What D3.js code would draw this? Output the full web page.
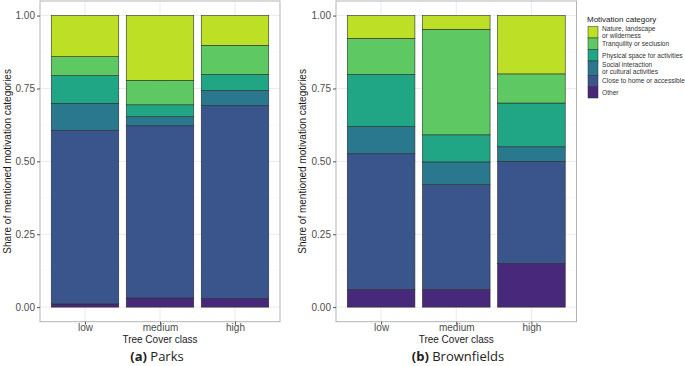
<!DOCTYPE html>
<html><head><meta charset="utf-8">
<script src="https://cdn.jsdelivr.net/npm/d3@7"></script>
<style>body{margin:0;background:#fff}svg{display:block}</style>
</head><body><svg id="c" width="685" height="366"></svg>
<script>
const classes = ["low","medium","high"];
const categories = ["Other","Close to home or accessible","Social interaction\nor cultural activities","Physical space for activities","Tranquility or seclusion","Nature, landscape\nor wilderness"];
const colors = ["#47287a","#3a548c","#2a788e","#21a685","#5ec962","#bddf26"];
// shares per class, in category order (bottom -> top)
const parksLow    = [0.011,0.595,0.093,0.095,0.065,0.141];
const parksMedium = [0.031,0.591,0.031,0.041,0.084,0.222];
const parksHigh   = [0.029,0.662,0.052,0.055,0.100,0.102];
const brownLow    = [0.060,0.466,0.093,0.179,0.124,0.078];
const brownMedium = [0.060,0.360,0.078,0.093,0.362,0.047];
const brownHigh   = [0.150,0.350,0.050,0.150,0.100,0.200];
const yTicks = [0,0.25,0.5,0.75,1];
const yMinor = [0.125,0.375,0.625,0.875];
const panels = [
  {key:"a", name:"Parks", data:[parksLow,parksMedium,parksHigh], x0:40, x1:280, ytitleX:7, capX:157},
  {key:"b", name:"Brownfields", data:[brownLow,brownMedium,brownHigh], x0:336, x1:576.5, ytitleX:302, capX:458}
];
const svg = d3.select("#c");
const pTop=1, pBot=321.7;
const y = d3.scaleLinear().domain([-0.05,1.05]).range([pBot,pTop]);
panels.forEach(p=>{
  const g = svg.append("g");
  const xc = d3.scalePoint().domain(classes).range([p.x0,p.x1]).padding(0.6);
  const step = xc.step(); const bw = step*0.9;
  // grid
  yMinor.forEach(t=>g.append("line").attr("x1",p.x0).attr("x2",p.x1).attr("y1",y(t)).attr("y2",y(t)).attr("stroke","#f4f4f4").attr("stroke-width",0.6));
  yTicks.forEach(t=>g.append("line").attr("x1",p.x0).attr("x2",p.x1).attr("y1",y(t)).attr("y2",y(t)).attr("stroke","#ebebeb").attr("stroke-width",1));
  classes.forEach(c=>g.append("line").attr("x1",xc(c)).attr("x2",xc(c)).attr("y1",pTop).attr("y2",pBot).attr("stroke","#ebebeb").attr("stroke-width",1));
  // stacked bars
  const rows = classes.map((c,i)=>{const o={cls:c}; categories.forEach((k,j)=>o[k]=p.data[i][j]); return o;});
  const series = d3.stack().keys(categories)(rows);
  series.forEach((s,j)=>{
    g.selectAll(null).data(s).join("rect")
      .attr("x",d=>xc(d.data.cls)-bw/2).attr("width",bw)
      .attr("y",d=>y(d[1])).attr("height",d=>y(d[0])-y(d[1]))
      .attr("fill",colors[j]).attr("stroke","#2b2b2b").attr("stroke-width",0.6);
  });
  // panel border
  g.append("rect").attr("x",p.x0).attr("y",pTop).attr("width",p.x1-p.x0).attr("height",pBot-pTop).attr("fill","none").attr("stroke","#b3b3b3").attr("stroke-width",1);
  // y axis
  const ya = d3.axisLeft(y).tickValues(yTicks).tickFormat(d3.format(".2f")).tickSize(3).tickPadding(2);
  const yg = g.append("g").attr("transform",`translate(${p.x0},0)`).call(ya);
  yg.select(".domain").remove();
  yg.selectAll("line").attr("stroke","#555");
  yg.selectAll("text").attr("fill","#4d4d4d").style("font-family","Liberation Sans, Arial").style("font-size","10px");
  // x axis
  const xa = d3.axisBottom(xc).tickSize(3).tickPadding(0);
  const xg = g.append("g").attr("transform",`translate(0,${pBot})`).call(xa);
  xg.select(".domain").remove();
  xg.selectAll("line").attr("stroke","#555");
  xg.selectAll("text").attr("fill","#4d4d4d").attr("dy","0.6em").style("font-family","Liberation Sans, Arial").style("font-size","10px");
  // titles
  g.append("text").attr("x",(p.x0+p.x1)/2).attr("y",342.5).attr("text-anchor","middle").style("font-family","Liberation Sans, Arial").style("font-size","10px").attr("fill","#1a1a1a").text("Tree Cover class");
  g.append("text").attr("transform",`translate(${p.ytitleX+3.5},${(pTop+pBot)/2}) rotate(-90)`).attr("text-anchor","middle").style("font-family","Liberation Sans, Arial").style("font-size","10px").attr("fill","#1a1a1a").text("Share of mentioned motivation categories");
  const cap = g.append("text").attr("x",p.capX).attr("y",360.5).attr("text-anchor","middle").style("font-family","Open Sans, sans-serif").style("font-size","13px").attr("fill","#222");
  cap.append("tspan").attr("font-weight","bold").text(`(${p.key})`);
  cap.append("tspan").text(` ${p.name}`);
});
// legend
const lg = svg.append("g");
lg.append("text").attr("x",587).attr("y",22).style("font-family","Liberation Sans, Arial").style("font-size","8px").attr("fill","#1a1a1a").text("Motivation category");
const keyH = [11.5,11.5,11.5,14.5,11,11.5];
let ky = 26.5;
const order = d3.range(categories.length).reverse();
order.forEach((j,i)=>{
  const h = keyH[i];
  lg.append("rect").attr("x",588).attr("y",ky).attr("width",10).attr("height",h).attr("fill",colors[j]).attr("stroke","#2b2b2b").attr("stroke-width",0.5);
  const lines = categories[j].split("\n");
  const t = lg.append("text").attr("x",602).style("font-family","Liberation Sans, Arial").style("font-size","6.6px").attr("fill","#333");
  const lh = 6.8;
  lines.forEach((ln,k)=>t.append("tspan").attr("x",602).attr("y",ky+h/2+2.3+(k-(lines.length-1)/2)*lh).text(ln));
  ky += h;
});
</script></body></html>
